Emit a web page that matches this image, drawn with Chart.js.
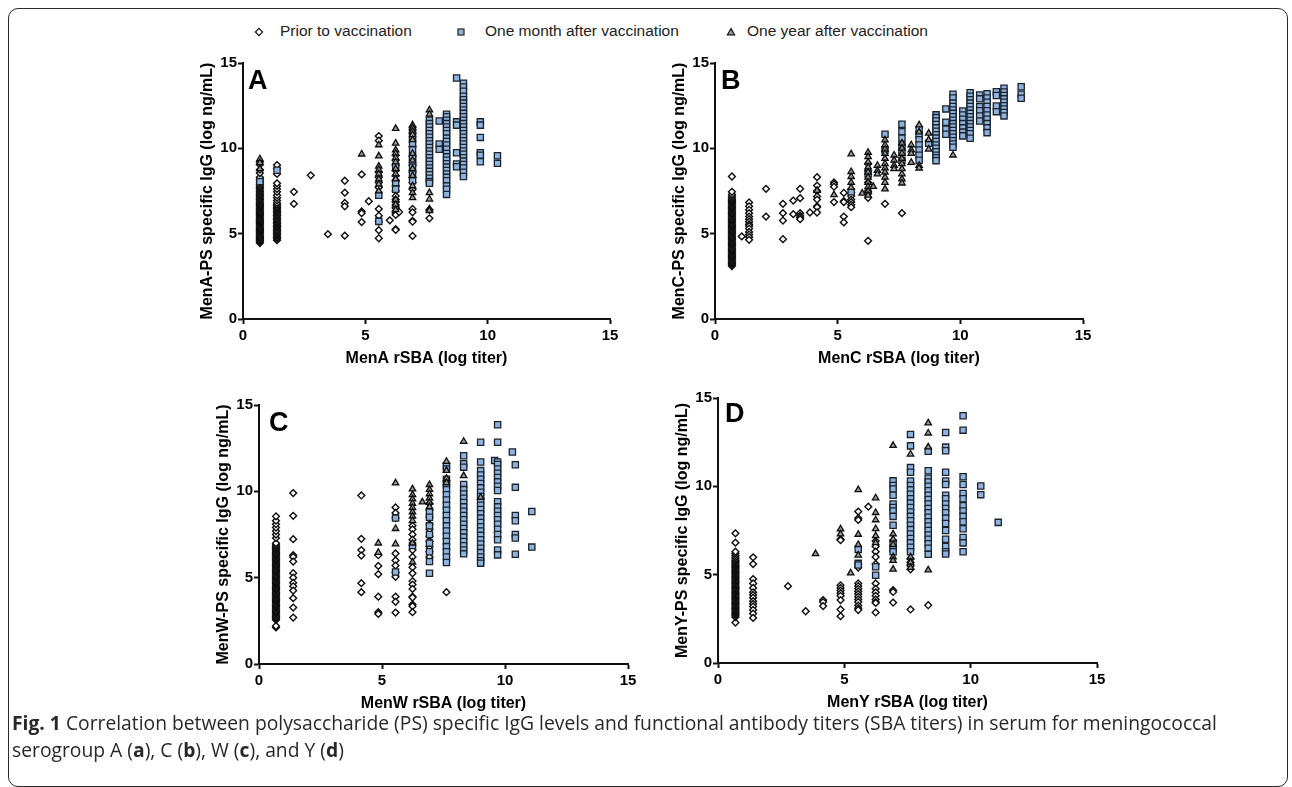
<!DOCTYPE html>
<html>
<head>
<meta charset="utf-8">
<script src="https://cdn.jsdelivr.net/npm/chart.js@4.4.0/dist/chart.umd.min.js"></script>
<style>
html,body{margin:0;padding:0;background:#fff;}
body{width:1292px;height:787px;overflow:hidden;position:relative;font-family:"Liberation Sans",Arial,sans-serif;}
.frame{position:absolute;left:8px;top:8px;width:1280px;height:779px;box-sizing:border-box;border:1.5px solid #2a2a2a;border-radius:10px;}
.panel{position:absolute;}
.panel canvas{display:block;}
.letter{position:absolute;font:bold 27px "Liberation Sans",Arial,sans-serif;line-height:27px;color:#000;}
.lg-mark{position:absolute;width:10px;height:10px;}
.lg-text{position:absolute;font:15.5px "Liberation Sans",Arial,sans-serif;line-height:18px;color:#222;white-space:nowrap;}
.caption{position:absolute;left:12px;font-family:"Open Sans",sans-serif;font-size:19.3px;line-height:27px;color:#2a2728;white-space:nowrap;}
</style>
</head>
<body>
<div class="frame"></div>

<svg class="lg-mark" style="left:254px;top:27px" viewBox="0 0 10 10"><polygon points="5,1.4 8.6,5 5,8.6 1.4,5" fill="#fff" stroke="#111" stroke-width="1.2"/></svg>
<div class="lg-text" style="left:280px;top:22px">Prior to vaccination</div>
<svg class="lg-mark" style="left:456px;top:27px" viewBox="0 0 10 10"><rect x="2" y="2" width="6" height="6" fill="#8fb3df" stroke="#222" stroke-width="1.2"/></svg>
<div class="lg-text" style="left:485px;top:22px">One month after vaccination</div>
<svg class="lg-mark" style="left:726px;top:27px" viewBox="0 0 10 10"><polygon points="5,1.6 8.6,7.8 1.4,7.8" fill="#9b9b9b" stroke="#111" stroke-width="1.2"/></svg>
<div class="lg-text" style="left:747px;top:22px">One year after vaccination</div>

<div id="pA" class="panel"></div>
<div id="pB" class="panel"></div>
<div id="pC" class="panel"></div>
<div id="pD" class="panel"></div>

<div class="letter" style="left:248px;top:67px">A</div>
<div class="letter" style="left:721px;top:67px">B</div>
<div class="letter" style="left:269px;top:409px">C</div>
<div class="letter" style="left:725px;top:400px">D</div>

<div class="caption" style="top:709px"><b>Fig. 1</b> Correlation between polysaccharide (PS) specific IgG levels and functional antibody titers (SBA titers) in serum for meningococcal<br>serogroup A (<b>a</b>), C (<b>b</b>), W (<b>c</b>), and Y (<b>d</b>)</div>

<script>
// ---------- labels ----------
const seriesNames = ['Prior to vaccination', 'One month after vaccination', 'One year after vaccination'];
const axisTicks = [0, 5, 10, 15];
const xTitles = ['MenA rSBA (log titer)', 'MenC rSBA (log titer)', 'MenW rSBA (log titer)', 'MenY rSBA (log titer)'];
const yTitles = ['MenA-PS specific IgG (log ng/mL)', 'MenC-PS specific IgG (log ng/mL)', 'MenW-PS specific IgG (log ng/mL)', 'MenY-PS specific IgG (log ng/mL)'];

// ---------- data: [log titer, [log IgG values]] ----------
// Panel A
const A_prior = [
  [0.69, [4.45,4.52,4.58,4.65,4.71,4.78,4.85,4.91,4.98,5.05,5.11,5.18,5.25,5.31,5.38,5.45,5.51,5.58,5.65,5.71,5.78,5.85,5.91,5.98,6.05,6.11,6.18,6.25,6.31,6.38,6.45,6.51,6.58,6.65,6.71,6.78,6.85,6.92,7.0,7.08,7.15,7.22,7.3,7.38,7.46,7.55,7.63,7.72,7.8,7.9,8.0,8.1,8.2,8.3,8.55,8.75,9.05,9.2]],
  [1.39, [4.62,4.7,4.78,4.86,4.94,5.02,5.1,5.18,5.26,5.34,5.42,5.5,5.58,5.66,5.74,5.82,5.9,5.98,6.06,6.14,6.22,6.3,6.38,6.46,6.54,6.62,6.7,6.8,6.95,7.1,7.25,7.45,7.62,7.8,7.95,8.5,8.82,9.02]],
  [2.08, [7.45,6.75]],
  [2.77, [8.42]],
  [3.47, [4.97]],
  [4.16, [8.1,7.4,6.8,6.6,4.88]],
  [4.85, [8.47,6.3,6.2,5.68]],
  [5.14, [6.9]],
  [5.55, [10.72,10.45,8.6,8.3,8.0,7.7,6.45,6.05,5.7,5.2,4.73]],
  [6.0, [5.78]],
  [6.24, [9.6,9.3,9.0,8.7,8.4,8.1,7.8,7.5,7.2,7.0,6.85,6.68,6.5,6.3,6.2,6.1,5.26,5.22]],
  [6.38, [6.27]],
  [6.93, [10.1,9.5,9.0,8.6,8.3,8.0,7.6,6.45,6.25,5.75,5.7,4.87]],
  [7.62, [6.4,5.9]]
];
const A_month = [
  [0.69, [8.05]],
  [1.39, [8.72]],
  [5.55, [7.25,5.72]],
  [6.24, [8.92,8.0,7.6]],
  [6.93, [11.07,10.7,10.3,9.9,9.5,9.2,8.9,8.5,8.1]],
  [7.62, [11.65,11.45,11.25,11.05,10.85,10.65,10.45,10.25,10.05,9.85,9.65,9.45,9.25,9.05,8.85,8.65,8.45,8.25,8.05,7.95]],
  [8.02, [11.6,10.25,9.94]],
  [8.32, [12.0,11.85,11.65,11.45,11.25,11.05,10.85,10.6,10.4,10.2,9.95,9.7,9.5,9.3,9.1,8.9,8.7,8.5,8.3,8.1,7.8,7.6,7.3]],
  [8.73, [14.12,11.55,11.36,9.74,9.08,8.92]],
  [9.01, [13.82,13.6,13.35,13.05,12.85,12.65,12.45,12.25,12.05,11.85,11.65,11.45,11.25,11.05,10.85,10.65,10.45,10.25,10.05,9.85,9.65,9.45,9.25,9.05,8.85,8.6,8.35]],
  [9.70, [11.55,11.36,10.64,9.74,9.6,9.21]],
  [10.40, [9.57,9.12]]
];
const A_year = [
  [0.69, [9.38,9.15,8.8]],
  [4.85, [9.66]],
  [5.55, [10.2,9.55,8.95,8.75,8.5,8.2,7.9,7.5]],
  [6.24, [11.16,10.3,9.9,9.7,9.45,9.2,8.8,8.5,8.2,7.0,6.7,6.4]],
  [6.93, [11.37,11.2,11.0,10.8,10.5,9.7,9.3,8.8,8.4,7.8,7.4,7.1]],
  [7.62, [12.25,12.0,7.4,7.02,6.45,6.35]]
];

// Panel B
const B_prior = [
  [0.69, [3.1,3.17,3.24,3.31,3.38,3.45,3.52,3.59,3.66,3.73,3.8,3.87,3.94,4.01,4.08,4.15,4.22,4.29,4.36,4.43,4.5,4.57,4.64,4.71,4.78,4.85,4.92,4.99,5.06,5.13,5.2,5.27,5.34,5.41,5.48,5.55,5.62,5.69,5.76,5.83,5.9,5.97,6.04,6.11,6.18,6.25,6.32,6.39,6.46,6.53,6.6,6.67,6.74,6.81,6.88,6.95,7.02,7.1,7.2,7.3,7.45,8.35]],
  [1.09, [4.84]],
  [1.39, [6.83,6.6,6.4,6.2,6.0,5.85,5.7,5.55,5.45,5.3,5.1,4.95,4.8,4.64]],
  [2.08, [7.63,6.0]],
  [2.77, [6.75,6.2,5.77,4.68]],
  [3.19, [6.94,6.14]],
  [3.47, [7.63,7.08,6.2,6.05,5.95,5.85]],
  [3.87, [6.24]],
  [4.16, [8.31,7.82,7.5,7.18,7.0,6.6,6.55,6.24]],
  [4.85, [8.0,7.9,7.75,6.85]],
  [5.25, [7.39,6.9,6.85,6.0,5.66]],
  [5.55, [7.4,7.2,7.0,6.85,6.7,6.55]],
  [6.24, [9.1,8.7,8.0,7.5,7.35,7.1,4.58]],
  [6.93, [6.75]],
  [7.62, [6.2]]
];
const B_month = [
  [5.55, [7.45]],
  [6.24, [8.5]],
  [6.93, [10.83,9.9]],
  [7.62, [11.41,10.98,10.6,10.2,9.8,9.3]],
  [8.32, [11.1,10.8,10.5,10.2,9.9,9.6,9.3]],
  [8.71, [10.3]],
  [9.01, [11.96,11.8,11.6,11.4,11.2,11.0,10.8,10.6,10.4,10.2,10.0,9.8,9.6,9.45,9.28]],
  [9.41, [12.31,11.53,11.12,10.83]],
  [9.70, [13.17,12.95,12.65,12.45,12.25,12.05,11.85,11.65,11.45,11.25,11.05,10.85,10.65,10.45,10.25,10.06]],
  [10.10, [12.19,11.95,11.7,11.45,11.2,10.95,10.73]],
  [10.40, [13.26,13.05,12.85,12.65,12.45,12.25,12.05,11.85,11.65,11.45,11.25,11.05,10.85,10.59]],
  [10.79, [13.13,12.9,12.44,12.2,11.9,11.6]],
  [11.09, [13.2,12.95,12.7,12.45,12.2,11.95,11.7,11.45,11.2,10.92]],
  [11.47, [13.32,13.1,12.48,12.15]],
  [11.78, [13.52,13.3,13.1,12.9,12.7,12.5,12.3,12.1,11.9]],
  [12.48, [13.61,13.17,12.93]]
];
const B_year = [
  [4.16, [7.53]],
  [4.85, [7.28]],
  [5.55, [9.67,8.63,8.34,8.0,7.7]],
  [6.0, [7.37]],
  [6.24, [9.75,9.5,9.2,8.9,8.6,8.3,8.0,7.75,7.5,7.25]],
  [6.45, [7.76]],
  [6.62, [9.0,8.7,8.5]],
  [6.93, [10.49,10.2,9.95,9.7,9.4,9.1,8.85,8.6,8.3,8.0,7.61]],
  [7.30, [9.6,9.3,9.0,8.8]],
  [7.62, [10.3,10.0,9.7,9.4,9.1,8.8,8.5,8.2,7.96]],
  [8.0, [10.2,9.9,9.7,9.17]],
  [8.32, [11.37,10.95,9.0,8.84]],
  [8.71, [10.88,10.5,9.95]],
  [9.70, [9.6]]
];

// Panel C
const C_prior = [
  [0.69, [2.12,2.2,2.55,2.62,2.69,2.76,2.83,2.9,2.97,3.04,3.11,3.18,3.25,3.32,3.39,3.46,3.53,3.6,3.67,3.74,3.81,3.88,3.95,4.02,4.09,4.16,4.23,4.3,4.37,4.44,4.51,4.58,4.65,4.72,4.79,4.86,4.93,5.0,5.07,5.14,5.21,5.28,5.35,5.42,5.49,5.56,5.63,5.7,5.77,5.84,5.91,5.98,6.05,6.12,6.19,6.26,6.33,6.4,6.47,6.54,6.61,6.68,6.75,6.82,6.9,7.0,7.3,7.5,7.7,7.9,8.1,8.3,8.55]],
  [1.39, [9.9,8.58,7.23,6.3,6.2,5.93,5.26,5.0,4.7,4.5,4.25,3.81,3.27,2.69]],
  [4.16, [9.76,7.25,6.6,6.28,4.68,4.16]],
  [4.85, [6.3,5.68,5.2,3.9,3.0,2.9]],
  [5.55, [9.07,8.75,8.45,6.4,6.0,5.7,5.3,5.05,3.9,3.6,2.98]],
  [6.24, [8.0,7.8,7.5,7.2,6.6,6.2,5.6,5.25,4.8,4.6,4.35,3.9,3.85,3.45,3.35,3.0]],
  [6.93, [9.3,8.9,8.5,8.1,7.8,7.4,7.1,6.8,6.5,6.2]],
  [7.62, [4.16]]
];
const C_month = [
  [5.55, [8.45,5.33]],
  [6.24, [6.86]],
  [6.93, [8.8,8.5,8.0,7.5,7.0,6.5,5.93,5.26]],
  [7.62, [11.48,11.3,10.7,10.4,10.1,9.8,9.5,9.2,8.9,8.6,8.3,8.0,7.7,7.4,7.1,6.8,6.5,6.2,5.88]],
  [8.32, [12.06,11.6,11.4,10.4,10.1,9.85,9.6,9.35,9.1,8.85,8.6,8.35,8.1,7.85,7.6,7.35,7.1,6.85,6.6,6.38]],
  [9.01, [12.84,11.7,11.2,10.95,10.7,10.45,10.2,9.95,9.7,9.45,9.2,8.95,8.7,8.45,8.2,7.95,7.7,7.45,7.2,6.95,6.7,6.45,6.2,5.98,5.84]],
  [9.58, [11.79]],
  [9.70, [13.86,12.84,11.7,11.55,11.3,11.05,10.8,10.55,10.3,10.05,9.4,9.1,8.85,8.6,8.35,8.1,7.8,7.5,7.2,6.6,6.32]],
  [10.30, [12.28]],
  [10.42, [11.54,10.23,8.6,8.3,7.5,7.3,6.36]],
  [11.09, [8.83,6.77]]
];
const C_year = [
  [4.85, [7.0,6.46]],
  [5.55, [10.48,7.84,6.95]],
  [6.24, [10.13,9.8,9.55,9.3,9.05,8.8,8.55,8.3,7.0,5.9]],
  [6.64, [9.38]],
  [6.93, [10.38,10.1,9.85,9.6,9.35,9.1]],
  [7.62, [11.73,11.2,10.75,10.5]],
  [8.32, [12.89,10.9]],
  [9.01, [9.65]]
];

// Panel D
const D_prior = [
  [0.69, [2.29,2.6,2.67,2.74,2.81,2.88,2.95,3.02,3.09,3.16,3.23,3.3,3.37,3.44,3.51,3.58,3.65,3.72,3.79,3.86,3.93,4.0,4.07,4.14,4.21,4.28,4.35,4.42,4.49,4.56,4.63,4.7,4.77,4.84,4.91,4.98,5.05,5.12,5.19,5.26,5.33,5.4,5.47,5.54,5.61,5.68,5.75,5.82,5.9,6.0,6.1,6.2,6.3,6.81,7.34]],
  [1.39, [5.98,5.6,4.75,4.5,4.25,4.0,3.85,3.7,3.5,3.35,3.2,3.0,2.8,2.55]],
  [2.77, [4.35]],
  [3.47, [2.93]],
  [4.16, [3.56,3.45,3.22]],
  [4.85, [7.0,6.95,4.4,4.25,4.1,3.95,3.8,3.56,3.03,2.65]],
  [5.55, [8.57,8.2,8.1,5.6,5.4,4.5,4.35,4.2,4.05,3.9,3.75,3.6,3.45,3.25,3.1,3.0]],
  [5.95, [8.85]],
  [6.24, [6.9,6.6,6.3,6.0,5.6,4.5,4.2,4.0,3.8,3.6,3.45,3.4,2.86]],
  [6.93, [4.12,4.02,3.42]],
  [7.62, [5.9,5.7,5.5,5.3,3.03]],
  [8.32, [3.27]]
];
const D_month = [
  [5.55, [6.43,5.64,5.55]],
  [6.24, [5.45,4.97]],
  [6.93, [10.31,10.05,9.85,9.5,9.0,8.8,8.6,8.3,7.8,6.8,6.5,6.3]],
  [7.62, [12.94,12.29,11.06,10.8,10.3,10.05,9.8,9.55,9.3,9.05,8.8,8.55,8.3,8.05,7.8,7.55,7.3,7.05,6.8,6.55,6.3]],
  [8.32, [11.99,10.88,10.46,10.25,10.0,9.75,9.5,9.25,9.0,8.75,8.5,8.25,8.0,7.75,7.5,7.25,7.0,6.75,6.5,6.15]],
  [9.01, [13.05,12.22,12.01,10.8,10.3,10.1,9.5,9.3,9.0,8.75,8.5,8.2,7.9,7.5,7.0,6.6,6.3,6.17]],
  [9.70, [14.0,13.18,10.54,10.1,9.6,9.3,8.9,8.6,8.3,8.0,7.6,7.1,6.8,6.3]],
  [10.40, [10.02,9.53]],
  [11.09, [7.96]]
];
const D_year = [
  [3.86, [6.18]],
  [4.85, [7.58,7.3]],
  [5.25, [5.09]],
  [5.55, [9.8,7.28,6.7,6.1]],
  [6.24, [9.34,8.51,8.1,7.6,7.2,6.8]],
  [6.93, [12.31,7.3,7.0,6.7,6.0,5.8,5.3]],
  [7.62, [11.82,6.0,5.7,5.4]],
  [8.32, [13.58,13.01,12.22,5.26]]
];

// ---------- rendering ----------
const toPoints = cols => cols.flatMap(([x, ys]) => ys.map(y => ({x, y})));

const markerStyles = [
  {pointStyle: 'rectRot', pointRadius: 3.4, borderWidth: 1.4, backgroundColor: '#ffffff', borderColor: '#0d0d0d', order: 3},
  {pointStyle: 'rect', pointRadius: 4.4, borderWidth: 1.3, backgroundColor: '#8fb3df', borderColor: '#1a222c', order: 2},
  {pointStyle: 'triangle', pointRadius: 3.7, borderWidth: 1.3, backgroundColor: '#999999', borderColor: '#0d0d0d', order: 1}
];

const FONT = 'Liberation Sans';

function scaleCfg(axis, titleText) {
  return {
    type: 'linear',
    min: axisTicks[0],
    max: axisTicks[axisTicks.length - 1],
    afterBuildTicks: s => { s.ticks = axisTicks.map(v => ({value: v})); },
    ticks: {
      color: '#000', autoSkip: false, maxRotation: 0,
      padding: axis === 'x' ? 3 : 1,
      font: {family: FONT, size: 15, weight: 'bold'}
    },
    grid: {drawOnChartArea: false, drawTicks: true, tickLength: 5, tickColor: '#111', tickWidth: 2},
    border: {display: true, color: '#111', width: 2},
    title: {
      display: true, text: titleText, color: '#000',
      font: {family: FONT, size: 16, weight: 'bold'},
      padding: axis === 'x' ? {top: 0, bottom: 5.5} : {top: 15.4, bottom: 0}
    },
    afterFit: s => { if (axis === 'x') s.height = 55; else s.width = 60; }
  };
}

const Y_W = 60, X_H = 55, PAD_T = 20, PAD_R = 22;
function makePanel(id, area, seriesCols, xTitle, yTitle) {
  const el = document.getElementById(id);
  const w = Y_W + (area.r - area.l) + PAD_R;
  const h = PAD_T + (area.b - area.t) + X_H;
  el.style.left = (area.l - Y_W) + 'px';
  el.style.top = (area.t - PAD_T) + 'px';
  const cv = document.createElement('canvas');
  cv.width = w; cv.height = h;
  cv.style.width = w + 'px'; cv.style.height = h + 'px';
  el.appendChild(cv);
  new Chart(cv, {
    type: 'scatter',
    data: {
      datasets: seriesCols.map((cols, i) => Object.assign({
        label: seriesNames[i],
        data: toPoints(cols)
      }, markerStyles[i]))
    },
    options: {
      responsive: false, animation: false, devicePixelRatio: 1, events: [],
      layout: {padding: {top: PAD_T, right: PAD_R, left: 0, bottom: 0}},
      plugins: {legend: {display: false}, tooltip: {enabled: false}},
      scales: {x: scaleCfg('x', xTitle), y: scaleCfg('y', yTitle)}
    }
  });
}

makePanel('pA', {l: 243, t: 63, r: 610, b: 319}, [A_prior, A_month, A_year], xTitles[0], yTitles[0]);
makePanel('pB', {l: 715, t: 63, r: 1083, b: 319}, [B_prior, B_month, B_year], xTitles[1], yTitles[1]);
makePanel('pC', {l: 259, t: 405, r: 628, b: 664}, [C_prior, C_month, C_year], xTitles[2], yTitles[2]);
makePanel('pD', {l: 718, t: 398, r: 1097, b: 663}, [D_prior, D_month, D_year], xTitles[3], yTitles[3]);
</script>
</body>
</html>
